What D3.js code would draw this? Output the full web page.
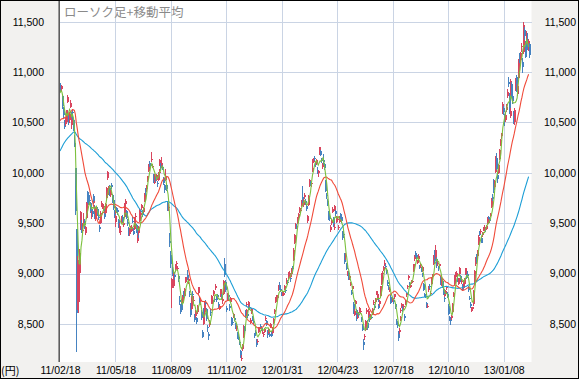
<!DOCTYPE html>
<html><head><meta charset="utf-8">
<script src="https://cdn.jsdelivr.net/npm/d3@7"></script>
<style>
html,body{margin:0;padding:0;background:#f2f1ef;}
svg{display:block;}
</style></head><body>
<svg id="c" width="579" height="379"></svg>
<script>
const chartTitle = "ローソク足+移動平均";
const unitLabel = "(円)";
const tickLabels = ["11/02/18","11/05/18","11/08/09","11/11/02","12/01/31","12/04/23","12/07/18","12/10/10","13/01/08"];
const tickIndex = [0,58,116,174,232,290,348,406,464];
const yTicks = [8500,9000,9500,10000,10500,11000,11500];
const maPeriods = [75,25,5];

// closes before the first candle (needed for the moving averages)
const priorCloses = [
9387,9202,
9202,9159,9358,9625,9732,9694,9830,9861,9724,9827,9797,9811,10013,10022,10115,10030,10079,10039,10125,9937,
9988,10168,10178,10167,10141,10232,10285,10212,10253,10293,10316,10309,10311,10304,10214,10370,10346,10280,10356,10292,10229,
10398,10380,10529,10541,10510,10512,10589,10499,10502,10557,10437,10274,10464,10478,10401,10360,10360,10238,10237,
10274,10457,10431,10543,10592,10636,10617,10605,10725,10746,10808,10836
];

// daily candles [open, high, low, close]
const ohlc = [
// 2011-02
[10860,10891,10802,10842],[10837,10868,10808,10857],[10760,10780,10636,10665],[10620,10650,10538,10579],[10490,10520,10434,10452],[10480,10556,10464,10526],[10500,10625,10488,10624],
// 2011-03
[10700,10768,10690,10754],[10570,10580,10470,10492],[10520,10600,10490,10586],[10650,10720,10640,10693],[10580,10600,10480,10505],[10470,10540,10440,10525],[10600,10630,10540,10589],[10520,10540,10420,10434],[10298,10378,10254,10254],[10044,10049,9578,9620],[9441,9441,8227,8605],[8700,9178,8639,9093],[8720,9134,8605,8962],[9005,9249,8931,9206],[9447,9620,9430,9608],[9500,9530,9400,9449],[9420,9500,9380,9435],[9530,9600,9470,9536],[9520,9540,9440,9478],[9400,9470,9380,9459],[9550,9710,9540,9708],[9770,9820,9700,9755],
// 2011-04
[9780,9810,9680,9708],[9730,9770,9690,9718],[9700,9710,9600,9615],[9560,9620,9540,9584],[9620,9640,9560,9590],[9700,9790,9690,9768],[9770,9790,9700,9720],[9660,9680,9540,9556],[9540,9660,9520,9641],[9600,9670,9590,9653],[9640,9660,9570,9591],[9560,9590,9530,9556],[9460,9480,9410,9441],[9500,9620,9490,9606],[9670,9720,9660,9685],[9680,9700,9640,9682],[9670,9690,9630,9671],[9630,9640,9540,9558],[9600,9700,9590,9691],[9750,9860,9730,9849],
// 2011-05
[9950,10017,9930,10004],[9800,9870,9780,9859],[9850,9880,9770,9794],[9780,9830,9760,9818],[9880,9900,9840,9864],[9780,9790,9700,9716],[9730,9740,9630,9648],[9600,9630,9550,9558],[9510,9580,9460,9567],[9600,9670,9590,9662],[9640,9660,9600,9620],[9630,9650,9580,9607],[9530,9540,9450,9460],[9440,9500,9400,9477],[9420,9450,9380,9422],[9500,9570,9490,9562],[9560,9580,9510,9521],[9480,9520,9460,9504],[9560,9700,9550,9693],
// 2011-06
[9690,9740,9670,9719],[9620,9630,9540,9555],[9510,9540,9470,9492],[9440,9460,9370,9380],[9390,9450,9370,9442],[9440,9470,9420,9449],[9420,9480,9410,9467],[9520,9560,9500,9514],[9420,9450,9380,9391],[9440,9560,9430,9547],[9560,9600,9540,9574],[9480,9490,9400,9411],[9390,9420,9330,9351],[9320,9380,9300,9354],[9400,9470,9380,9459],[9520,9640,9510,9629],[9580,9610,9550,9597],[9650,9690,9630,9678],[9610,9630,9560,9578],[9610,9660,9590,9648],[9720,9800,9710,9797],[9820,9850,9780,9816],
// 2011-07
[9840,9880,9810,9868],[9930,9970,9910,9965],[10020,10090,10010,10082],[10100,10120,10060,10099],[10080,10100,10050,10071],[10130,10207,10110,10137],[10060,10090,10050,10069],[9980,9990,9900,9925],[9900,9990,9890,9963],[9950,9970,9910,9936],[9930,9990,9920,9974],[9900,9920,9860,9889],[9930,10010,9920,10005],[10010,10040,9990,10010],[10080,10140,10070,10132],[10080,10100,10030,10050],[10060,10160,10050,10097],[10060,10080,10030,10047],[9950,9960,9880,9901],[9880,9890,9800,9833],
// 2011-08
[9930,10040,9920,9965],[9880,9900,9820,9844],[9700,9720,9620,9637],[9650,9690,9620,9659],[9320,9400,9264,9299],[9180,9220,9057,9097],[8860,8960,8656,8944],[9040,9110,8980,9038],[8880,9020,8860,8981],[8990,9020,8940,8963],[9050,9100,9020,9086],[9100,9130,9070,9107],[9050,9080,9030,9057],[8980,8990,8920,8943],[8740,8780,8690,8719],[8690,8700,8600,8628],[8700,8750,8660,8733],[8700,8710,8620,8639],[8710,8790,8700,8772],[8800,8830,8770,8797],[8780,8860,8760,8851],[8930,8970,8910,8953],[8940,8970,8920,8955],
// 2011-09
[8990,9040,8940,8950],[8930,8960,8900,8950],[8800,8830,8770,8784],[8680,8710,8570,8590],[8650,8780,8640,8763],[8800,8830,8760,8793],[8730,8780,8710,8737],[8580,8600,8520,8535],[8580,8640,8560,8616],[8560,8570,8500,8518],[8620,8690,8600,8668],[8810,8870,8790,8864],[8750,8770,8700,8721],[8730,8760,8690,8741],[8620,8640,8540,8560],[8420,8440,8359,8374],[8500,8620,8490,8609],[8640,8660,8590,8615],[8620,8720,8610,8701],[8720,8740,8690,8700],
// 2011-10
[8650,8660,8530,8545],[8470,8490,8420,8456],[8400,8420,8343,8382],[8490,8540,8470,8522],[8620,8650,8580,8605],[8720,8790,8700,8773],[8720,8760,8700,8738],[8800,8840,8780,8823],[8750,8780,8720,8747],[8860,8900,8840,8879],[8760,8780,8720,8741],[8790,8800,8750,8772],[8700,8720,8660,8682],[8650,8690,8640,8678],[8780,8850,8770,8843],[8790,8800,8750,8762],[8730,8770,8700,8748],[8800,8940,8790,8926],[9030,9050,8990,9050],[9100,9152,8970,8988],
// 2011-11
[8920,8940,8820,8835],[8660,8680,8620,8640],[8740,8810,8730,8801],[8790,8800,8740,8767],[8680,8700,8630,8655],[8720,8770,8710,8755],[8560,8570,8480,8500],[8520,8540,8490,8514],[8580,8610,8560,8603],[8560,8590,8530,8541],[8500,8510,8450,8463],[8450,8490,8430,8479],[8410,8420,8350,8374],[8370,8400,8340,8348],[8320,8350,8290,8314],[8230,8240,8160,8165],[8150,8190,8136,8160],[8250,8300,8230,8287],[8370,8490,8360,8477],[8470,8480,8400,8434],
// 2011-12
[8600,8640,8560,8597],[8600,8650,8580,8643],[8690,8720,8670,8695],[8600,8620,8560,8575],[8650,8730,8640,8722],[8670,8690,8640,8664],[8520,8560,8500,8536],[8620,8660,8600,8653],[8560,8580,8530,8553],[8530,8550,8500,8519],[8400,8410,8360,8377],[8420,8440,8380,8401],[8340,8350,8270,8296],[8320,8350,8310,8336],[8420,8470,8410,8459],[8450,8470,8430,8460],[8480,8500,8460,8479],[8460,8470,8430,8440],[8420,8440,8400,8423],[8390,8410,8370,8398],[8420,8460,8410,8455],
// 2012-01
[8550,8580,8530,8560],[8530,8540,8480,8488],[8430,8440,8360,8390],[8410,8450,8400,8422],[8430,8460,8420,8448],[8400,8410,8370,8385],[8470,8510,8460,8500],[8420,8430,8370,8378],[8410,8470,8400,8466],[8510,8560,8500,8550],[8620,8650,8600,8639],[8720,8770,8710,8766],[8760,8790,8740,8765],[8760,8790,8740,8785],[8850,8890,8830,8883],[8890,8920,8840,8849],[8850,8860,8820,8841],[8800,8820,8780,8793],[8800,8830,8780,8802],
// 2012-02
[8790,8830,8780,8809],[8850,8890,8840,8876],[8840,8860,8810,8831],[8920,8960,8900,8929],[8920,8940,8890,8917],[8960,9020,8950,9015],[9000,9030,8980,9002],[8960,8980,8920,8947],[8970,9010,8960,8999],[9000,9060,8990,9052],[9060,9080,9030,9052],[9140,9250,9130,9238],[9300,9390,9290,9384],[9470,9500,9440,9485],[9470,9490,9440,9463],[9500,9560,9490,9554],[9560,9600,9520,9595],[9620,9660,9600,9647],[9620,9650,9600,9633],[9680,9730,9660,9722],[9760,9866,9700,9723],
// 2012-03
[9680,9740,9660,9707],[9760,9800,9740,9777],[9720,9740,9680,9698],[9670,9690,9620,9637],[9520,9580,9500,9576],[9680,9780,9670,9768],[9880,9940,9860,9929],[9900,9920,9870,9889],[9890,9910,9860,9899],[10030,10080,10010,10050],[10100,10140,10080,10123],[10110,10150,10100,10129],[10150,10170,10120,10141],[10100,10110,10060,10086],[10100,10140,10080,10127],[10030,10060,9990,10011],[10000,10030,9960,10018],[10200,10255,10180,10255],[10220,10230,10170,10182],[10130,10150,10100,10114],[10060,10100,10040,10083],
// 2012-04
[10130,10190,10080,10109],[10090,10100,10030,10050],[9920,9930,9810,9819],[9780,9800,9740,9767],[9720,9740,9670,9688],[9600,9620,9530,9546],[9550,9580,9520,9538],[9430,9480,9410,9458],[9500,9540,9480,9524],[9610,9660,9600,9637],[9550,9560,9460,9470],[9450,9490,9430,9464],[9630,9680,9620,9667],[9620,9630,9570,9588],[9520,9570,9500,9561],[9530,9560,9510,9542],[9450,9480,9430,9467],[9510,9570,9500,9561],[9580,9600,9540,9561],[9560,9590,9500,9520],
// 2012-05
[9390,9420,9330,9350],[9390,9420,9360,9380],[9180,9200,9100,9119],[9160,9200,9140,9181],[9100,9110,9040,9045],[9000,9030,8980,9009],[9010,9030,8940,8953],[8960,8990,8940,8973],[8900,8920,8880,8900],[8820,8840,8790,8801],[8850,8880,8830,8876],[8700,8720,8600,8611],[8590,8650,8580,8633],[8700,8740,8690,8729],[8640,8650,8530,8556],[8600,8620,8550,8563],[8560,8600,8550,8593],[8600,8620,8570,8593],[8630,8670,8610,8657],[8630,8650,8610,8633],[8560,8570,8520,8542],
// 2012-06
[8480,8500,8430,8440],[8320,8350,8238,8295],[8370,8400,8340,8382],[8440,8540,8430,8533],[8620,8660,8600,8639],[8510,8540,8440,8459],[8580,8650,8560,8625],[8560,8590,8520,8536],[8560,8600,8540,8587],[8570,8590,8550,8568],[8600,8660,8590,8647],[8710,8740,8690,8721],[8680,8700,8640,8655],[8720,8760,8700,8752],[8800,8830,8790,8824],[8760,8810,8740,8798],[8740,8760,8720,8735],[8690,8700,8650,8663],[8700,8740,8680,8730],[8780,8880,8770,8874],[8900,9010,8890,9006],
// 2012-07
[9000,9030,8970,9003],[9040,9080,9030,9066],[9100,9140,9080,9104],[9080,9100,9050,9079],[9040,9050,9000,9020],[8920,8940,8880,8896],[8870,8890,8840,8857],[8830,8870,8820,8851],[8770,8790,8700,8720],[8740,8760,8710,8724],[8730,8770,8720,8755],[8740,8750,8700,8721],[8770,8800,8750,8795],[8700,8710,8650,8669],[8530,8550,8490,8508],[8490,8510,8460,8488],[8420,8430,8328,8366],[8420,8460,8400,8443],[8560,8580,8530,8567],[8630,8660,8610,8636],[8680,8710,8660,8695],
// 2012-08
[8650,8680,8620,8640],[8670,8700,8650,8680],[8580,8600,8530,8555],[8700,8740,8690,8726],[8790,8810,8770,8803],[8870,8890,8850,8881],[8960,8990,8940,8978],[8900,8920,8880,8891],[8870,8900,8860,8885],[8910,8940,8900,8929],[8920,8940,8910,8929],[9030,9100,9020,9092],[9150,9180,9130,9162],[9180,9220,9160,9171],[9180,9200,9150,9156],[9110,9140,9100,9131],[9150,9190,9140,9178],[9080,9090,9050,9070],[9080,9100,9060,9085],[9060,9070,9020,9033],[9030,9080,9020,9069],[9000,9010,8970,8983],[8900,8910,8830,8839],
// 2012-09
[8800,8810,8770,8783],[8780,8800,8760,8775],[8710,8720,8660,8679],[8680,8700,8660,8680],[8840,8880,8820,8871],[8880,8900,8850,8869],[8800,8830,8780,8807],[8900,8960,8890,8959],[8970,9000,8950,8995],[9100,9180,9090,9159],[9200,9230,9110,9123],[9160,9288,9150,9232],[9150,9160,9060,9086],[9100,9140,9080,9110],[9070,9080,9030,9069],[9080,9100,9060,9091],[8970,8980,8890,8906],[8900,8960,8880,8949],[8930,8950,8860,8870],
// 2012-10
[8850,8860,8790,8796],[8780,8800,8760,8786],[8760,8770,8720,8746],[8800,8840,8790,8824],[8860,8880,8840,8863],[8800,8820,8760,8769],[8680,8700,8590,8596],[8560,8580,8530,8546],[8560,8570,8488,8534],[8560,8590,8540,8577],[8620,8710,8610,8701],[8780,8820,8770,8806],[8900,8990,8890,8982],[9000,9020,8980,9002],[8980,9030,8970,9010],[8960,8980,8920,8936],[8900,8960,8890,8955],[9000,9070,8990,9055],[8980,8990,8920,8933],[8920,8950,8900,8929],[8880,8900,8830,8841],[8860,8940,8850,8928],
// 2012-11
[8900,8960,8880,8946],[9000,9060,8990,9051],[8980,9000,8950,8975],[8980,8990,8950,8975],[9000,9030,8960,8972],[8870,8880,8820,8837],[8760,8780,8740,8757],[8700,8720,8660,8676],[8660,8670,8620,8661],[8650,8670,8630,8664],[8700,8840,8680,8829],[8920,9040,8900,9024],[9100,9160,9080,9153],[9170,9190,9110,9142],[9170,9230,9150,9222],[9290,9380,9280,9366],[9400,9420,9370,9388],[9420,9440,9390,9423],[9350,9360,9300,9308],[9380,9410,9360,9400],[9430,9460,9420,9446],
// 2012-12
[9450,9480,9420,9458],[9440,9450,9410,9432],[9440,9480,9430,9468],[9500,9560,9490,9545],[9550,9570,9510,9527],[9500,9540,9490,9533],[9540,9560,9510,9525],[9570,9600,9560,9581],[9660,9750,9650,9742],[9760,9790,9720,9737],[9910,9940,9800,9828],[9860,9930,9850,9923],[10010,10170,10000,10160],[10150,10200,10030,10040],[9980,10000,9900,9940],[10000,10090,9990,10080],[10140,10240,10130,10230],[10280,10340,10270,10322],[10370,10400,10340,10395],
// 2013-01
[10600,10700,10580,10688],[10640,10660,10570,10599],[10560,10580,10460,10508],[10520,10600,10500,10578],[10620,10680,10600,10652],[10760,10830,10740,10801],[10900,10950,10850,10879],[10780,10790,10580,10600],[10560,10640,10540,10610],[10780,10930,10760,10913],[10880,10900,10740,10747],[10760,10800,10680,10709],[10600,10610,10480,10487],[10500,10640,10470,10620],[10820,10940,10810,10926],[10950,10970,10800,10824],[10780,10880,10760,10866],[10940,11130,10930,11113],[11160,11190,11090,11138],
// 2013-02
[11120,11200,11080,11191],[11260,11290,11200,11260],[11100,11140,10990,11046],[11200,11498,11180,11463],[11420,11450,11320,11357],[11290,11310,11140,11153],[11300,11410,11280,11369],[11320,11390,11220,11251],[11260,11330,11210,11307],[11280,11290,11140,11173]
];

// ---------- drawing ----------
const W = 579, H = 379;
const plot = {left: 60, right: 531.5, top: 0, bottom: 362};
const colors = {
  bg: "#f2f1ef", grid: "#cad4e4", up: "#d9465f", down: "#4683c1",
  ma: {5: "#7cc13e", 25: "#f04b3a", 75: "#1c9ed6"}
};

const svg = d3.select("#c");
svg.append("rect").attr("width", W).attr("height", H).attr("fill", colors.bg);
svg.append("rect").attr("x", plot.left).attr("y", plot.top)
  .attr("width", plot.right - plot.left).attr("height", plot.bottom - plot.top).attr("fill", "#fff");

const x = d3.scaleLinear().domain([0, 493]).range([plot.left, plot.right]);
const y = d3.scaleLinear().domain([8500, 11500]).range([324, 21.7]);

// grid
const gy = svg.append("g").attr("transform", `translate(${plot.left},0)`)
  .call(d3.axisLeft(y).tickValues(yTicks).tickSize(-(plot.right - plot.left)).tickFormat(""));
gy.select(".domain").remove();
gy.selectAll("line").attr("stroke", colors.grid).attr("shape-rendering", "crispEdges");

const gx = svg.append("g").attr("transform", `translate(0,${plot.bottom})`)
  .call(d3.axisBottom(x).tickValues(tickIndex.slice(1)).tickSize(-(plot.bottom - plot.top)).tickFormat(""));
gx.select(".domain").remove();
gx.selectAll("line").attr("stroke", colors.grid).attr("shape-rendering", "crispEdges");

// title
svg.append("text").attr("x", 64).attr("y", 17).text(chartTitle)
  .attr("font-family", "'Noto Sans CJK JP', sans-serif").attr("font-size", 12.5).attr("fill", "#8a8a8a");

// clip
svg.append("clipPath").attr("id", "pc").append("rect")
  .attr("x", plot.left).attr("y", plot.top).attr("width", plot.right - plot.left).attr("height", plot.bottom - plot.top);
const area = svg.append("g").attr("clip-path", "url(#pc)");

// candles
const cg = area.append("g").attr("shape-rendering", "crispEdges");
const cand = cg.selectAll("g").data(ohlc).join("g")
  .attr("fill", d => d[3] >= d[0] ? colors.up : colors.down)
  .attr("stroke", d => d[3] >= d[0] ? colors.up : colors.down);
cand.append("line")
  .attr("x1", (d, i) => Math.round(x(i)) + 0.5).attr("x2", (d, i) => Math.round(x(i)) + 0.5)
  .attr("y1", d => y(d[1])).attr("y2", d => y(d[2])).attr("stroke-width", 1);
cand.append("rect")
  .attr("x", (d, i) => Math.round(x(i))).attr("width", 2)
  .attr("y", d => y(Math.max(d[0], d[3])))
  .attr("height", d => Math.max(1, Math.abs(y(d[0]) - y(d[3]))))
  .attr("stroke", "none");

// moving averages
const closes = ohlc.map(d => d[3]);
const allCloses = priorCloses.concat(closes);
const off = priorCloses.length;
const line = d3.line().x(d => x(d[0])).y(d => y(d[1]));
maPeriods.forEach(p => {
  const pts = closes.map((c, i) => {
    const j = off + i;
    return [i, d3.mean(allCloses.slice(Math.max(0, j - p + 1), j + 1))];
  });
  area.append("path").attr("d", line(pts)).attr("fill", "none")
    .attr("stroke", colors.ma[p]).attr("stroke-width", 1.1);
});

// left axis line
svg.append("line").attr("x1", 59.2).attr("x2", 59.2).attr("y1", 0).attr("y2", plot.bottom)
  .attr("stroke", "#5e5e5e").attr("stroke-width", 1.6);

// y labels
const fontNum = "'Liberation Sans', Arial, sans-serif";
[44, 576].forEach(px => {
  const g = svg.append("g").attr("transform", `translate(${px},0)`)
    .call(d3.axisLeft(y).tickValues(yTicks).tickSize(0).tickPadding(0).tickFormat(d3.format(",")));
  g.select(".domain").remove();
  g.selectAll("text").attr("font-family", fontNum).attr("font-size", 10.5).attr("fill", "#000");
});

// x labels
const xl = svg.append("g").attr("transform", `translate(0,367)`)
  .call(d3.axisBottom(x).tickValues(tickIndex).tickSize(0).tickPadding(0).tickFormat((d, k) => tickLabels[k]));
xl.select(".domain").remove();
xl.selectAll("text").attr("font-family", fontNum).attr("font-size", 10.5).attr("fill", "#000");

svg.append("text").attr("x", 1).attr("y", 375).text(unitLabel)
  .attr("font-family", "'Noto Sans CJK JP', sans-serif").attr("font-size", 11).attr("fill", "#000");

// outer border
svg.append("rect").attr("x", 0.5).attr("y", 0.5).attr("width", W - 1).attr("height", H - 1)
  .attr("fill", "none").attr("stroke", "#000");
</script>
</body></html>
